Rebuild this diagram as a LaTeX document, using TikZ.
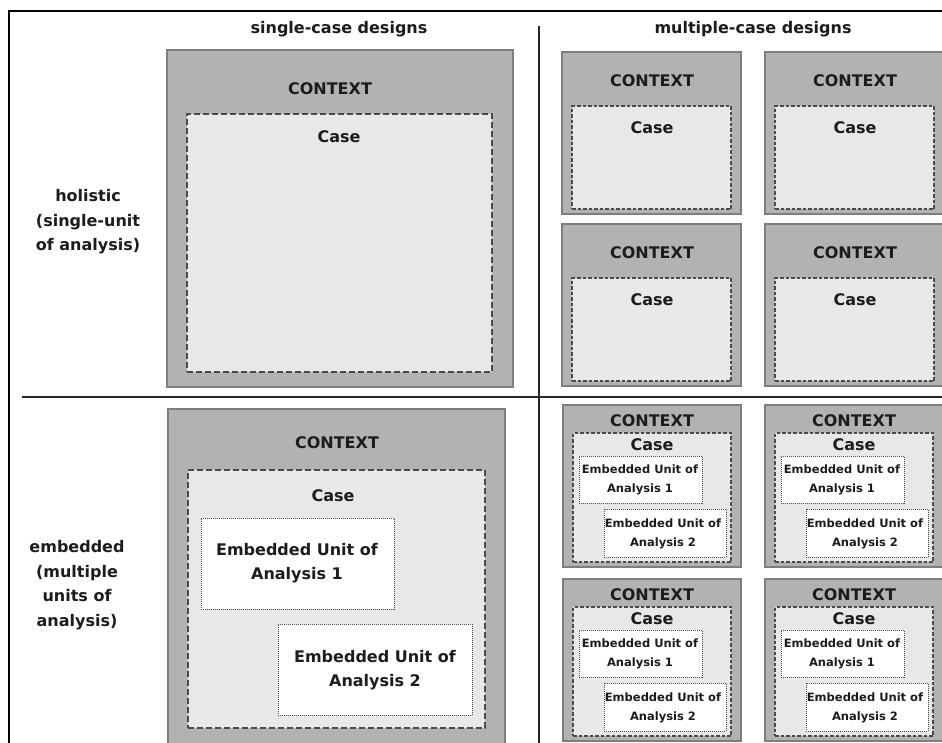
\documentclass[tikz,border=0pt]{standalone}
\usepackage{fontspec}
\setmainfont{DejaVu Sans}
\definecolor{ctxfill}{HTML}{B2B3B1}
\definecolor{ctxline}{HTML}{7E7F7D}
\definecolor{casefill}{HTML}{E8E8E8}
\definecolor{caseline}{HTML}{4A4A4A}
\definecolor{ink}{HTML}{1C1C1C}
\tikzset{
  ctxbox/.style={draw=ctxline, fill=ctxfill, line width=1.6pt, inner sep=0pt, outer sep=0pt, anchor=north west},
  casebox/.style={draw=caseline, fill=casefill, line width=1.3pt, dash pattern=on 6pt off 3pt, inner sep=0pt, outer sep=0pt, anchor=north west},
  casesmall/.style={casebox, line width=1.1pt, dash pattern=on 3.5pt off 2pt},
  eubox/.style={draw=caseline, fill=white, line width=0.9pt, dash pattern=on 1pt off 1pt, inner sep=0pt, outer sep=0pt, anchor=north west},
  bigtxt/.style={text=ink, font=\fontsize{16}{24.5}\selectfont\bfseries, align=center, inner sep=0pt},
  smalltxt/.style={text=ink, font=\fontsize{11.5}{19}\selectfont\bfseries, align=center, inner sep=0pt},
  frameline/.style={draw=black, line width=2pt},
  divline/.style={draw=black!85, line width=2pt}
}
% box: name, style, x1, y1, x2, y2
\newcommand\mkbox[6]{\node[#2, minimum width={((#5)-(#3))*1pt}, minimum height={((#6)-(#4))*1pt}] (#1) at (#3,#4) {};}
% multiple-case holistic cell at (X,Y)
\newcommand\multiH[3]{%
  \mkbox{#1ctx}{ctxbox}{#2}{#3}{#2+179}{#3+162}
  \mkbox{#1case}{casesmall}{#2+10}{#3+54}{#2+169}{#3+157}
  \node[bigtxt] (#1ctxt) at (#2+90,#3+29) {CONTEXT};
  \node[bigtxt] (#1ctxc) at (#2+90,#3+76) {Case};
}
% multiple-case embedded cell at (X,Y)
\newcommand\multiE[3]{%
  \mkbox{#1ctx}{ctxbox}{#2}{#3}{#2+178}{#3+162}
  \mkbox{#1case}{casesmall}{#2+10}{#3+28}{#2+168}{#3+157}
  \mkbox{#1eua}{eubox}{#2+16}{#3+51}{#2+139}{#3+98}
  \mkbox{#1eub}{eubox}{#2+41}{#3+104}{#2+163}{#3+152}
  \node[bigtxt] (#1ctxt) at (#2+89,#3+16) {CONTEXT};
  \node[bigtxt] (#1ctxc) at (#2+89,#3+40) {Case};
  \node[smalltxt] (#1euat) at (#2+77,#3+75) {Embedded Unit of\\Analysis 1};
  \node[smalltxt] (#1eubt) at (#2+100,#3+129) {Embedded Unit of\\Analysis 2};
}
\begin{document}
\begin{tikzpicture}[x=1pt, y=-1pt]
\useasboundingbox (0,0) rectangle (942,742);
\clip (0,0) rectangle (942,742);
\fill[white] (0,0) rectangle (942,742);

% frame and dividers
\coordinate (fbl) at (9,745);
\coordinate (ftl) at (9,11);
\coordinate (ftr) at (945,11);
\coordinate (hl) at (22,397);
\coordinate (hr) at (945,397);
\coordinate (vt) at (539,26);
\coordinate (vb) at (539,745);
\draw[frameline] (fbl) -- (ftl) -- (ftr);
\draw[divline] (hl) -- (hr);
\draw[divline] (vt) -- (vb);

% headers
\node[bigtxt] (hsingle) at (339,29) {single-case designs};
\node[bigtxt] (hmulti) at (753,29) {multiple-case designs};
\node[bigtxt] (lholistic) at (88,222) {holistic\\(single-unit\\of analysis)};
\node[bigtxt] (lembedded) at (77,585) {embedded\\(multiple\\units of\\analysis)};

% single-case holistic
\mkbox{shctx}{ctxbox}{167}{50}{513}{387}
\mkbox{shcase}{casebox}{187}{114}{492}{372}
\node[bigtxt] (shctxt) at (330,89) {CONTEXT};
\node[bigtxt] (shcast) at (339,137) {Case};

% single-case embedded
\mkbox{sectx}{ctxbox}{168}{409}{505}{748}
\mkbox{secase}{casebox}{188}{470}{485}{728}
\mkbox{seeua}{eubox}{201}{518}{394}{609}
\mkbox{seeub}{eubox}{278}{624}{472}{715}
\node[bigtxt] (sectxt) at (337,443) {CONTEXT};
\node[bigtxt] (secast) at (333,496) {Case};
\node[bigtxt, font=\fontsize{16}{23.5}\selectfont\bfseries] (seeuat) at (297,563) {Embedded Unit of\\Analysis 1};
\node[bigtxt, font=\fontsize{16}{23.5}\selectfont\bfseries] (seeubt) at (375,670) {Embedded Unit of\\Analysis 2};

% multiple-case holistic
\multiH{mha}{562}{52}
\multiH{mhb}{765}{52}
\multiH{mhc}{562}{224}
\multiH{mhd}{765}{224}

% multiple-case embedded
\multiE{mea}{563}{405}
\multiE{meb}{765}{405}
\multiE{mec}{563}{579}
\multiE{med}{765}{579}
\end{tikzpicture}
\end{document}
